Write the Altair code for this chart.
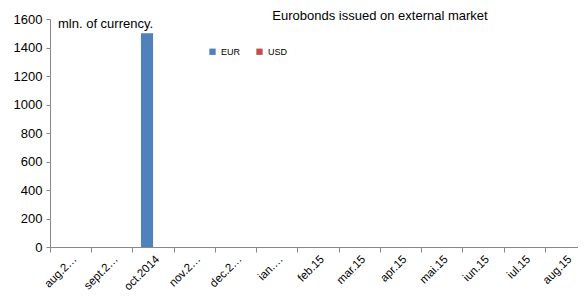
import altair as alt
import pandas as pd

months = ["aug.2014", "sept.2014", "oct.2014", "nov.2014", "dec.2014", "ian.2015",
          "feb.15", "mar.15", "apr.15", "mai.15", "iun.15", "iul.15", "aug.15"]
tick_labels = ["aug.2…", "sept.2…", "oct.2014", "nov.2…", "dec.2…", "ian.…",
               "feb.15", "mar.15", "apr.15", "mai.15", "iun.15", "iul.15", "aug.15"]
eur = [0, 0, 1500, 0, 0, 0, 0, 0, 0, 0, 0, 0, 0]
usd = [0, 0, 0, 0, 0, 0, 0, 0, 0, 0, 0, 0, 0]
series = ["EUR", "USD"]
colors = ["#4F81BD", "#C0504D"]

rows = []
for m, e, u in zip(months, eur, usd):
    rows.append({"month": m, "currency": "EUR", "value": e})
    rows.append({"month": m, "currency": "USD", "value": u})
df = pd.DataFrame(rows)

label_map = "{" + ",".join(f"'{m}':'{t}'" for m, t in zip(months, tick_labels)) + "}"

FONT = "Liberation Sans"

bars = alt.Chart(df).mark_bar().encode(
    x=alt.X("month:N", sort=months, title=None,
            scale=alt.Scale(paddingInner=0.0, paddingOuter=0.0, range=[0, 536]),
            axis=alt.Axis(labelAngle=-45, labelAlign="right", labelBaseline="top",
                          labelExpr=f"{label_map}[datum.value]",
                          tickBand="extent", domainColor="#888888", tickColor="#888888",
                          tickSize=5, labelFont=FONT, labelFontSize=11.5, labelColor="#000000",
                          labelPadding=1, labelOverlap=False)),
    xOffset=alt.XOffset("currency:N", sort=series,
                        scale=alt.Scale(paddingInner=0.0, paddingOuter=0.7)),
    y=alt.Y("value:Q", title=None,
            scale=alt.Scale(domain=[0, 1600], nice=False),
            axis=alt.Axis(values=list(range(0, 1601, 200)), grid=False, format="d",
                          domainColor="#888888", tickColor="#888888", tickSize=4,
                          labelFont=FONT, labelFontSize=13, labelColor="#000000",
                          labelPadding=4)),
    color=alt.Color("currency:N", sort=series,
                    scale=alt.Scale(domain=series, range=colors),
                    legend=alt.Legend(title=None, orient="none", legendX=158, legendY=28,
                                      direction="horizontal", symbolType="square",
                                      symbolSize=40, labelFont=FONT, labelFontSize=9,
                                      columnPadding=14, symbolStrokeWidth=0)),
)

title_df = pd.DataFrame({"t": ["Eurobonds issued on external market"]})
title = alt.Chart(title_df).mark_text(font=FONT, fontSize=13, align="center",
                                      baseline="middle", color="#000000").encode(
    text="t:N", x=alt.value(330), y=alt.value(-3))

unit_df = pd.DataFrame({"t": ["mln. of currency."]})
unit = alt.Chart(unit_df).mark_text(font=FONT, fontSize=13, align="left",
                                    baseline="middle", color="#000000").encode(
    text="t:N", x=alt.value(8), y=alt.value(5))

chart = alt.layer(bars, title, unit).properties(
    width=528, height=228,
    autosize=alt.AutoSizeParams(type="none"),
    padding={"left": 42, "top": 11, "right": 0, "bottom": 51},
).configure_view(stroke=None)

chart.save("out.html", embed_options={"renderer": "svg", "actions": False})
